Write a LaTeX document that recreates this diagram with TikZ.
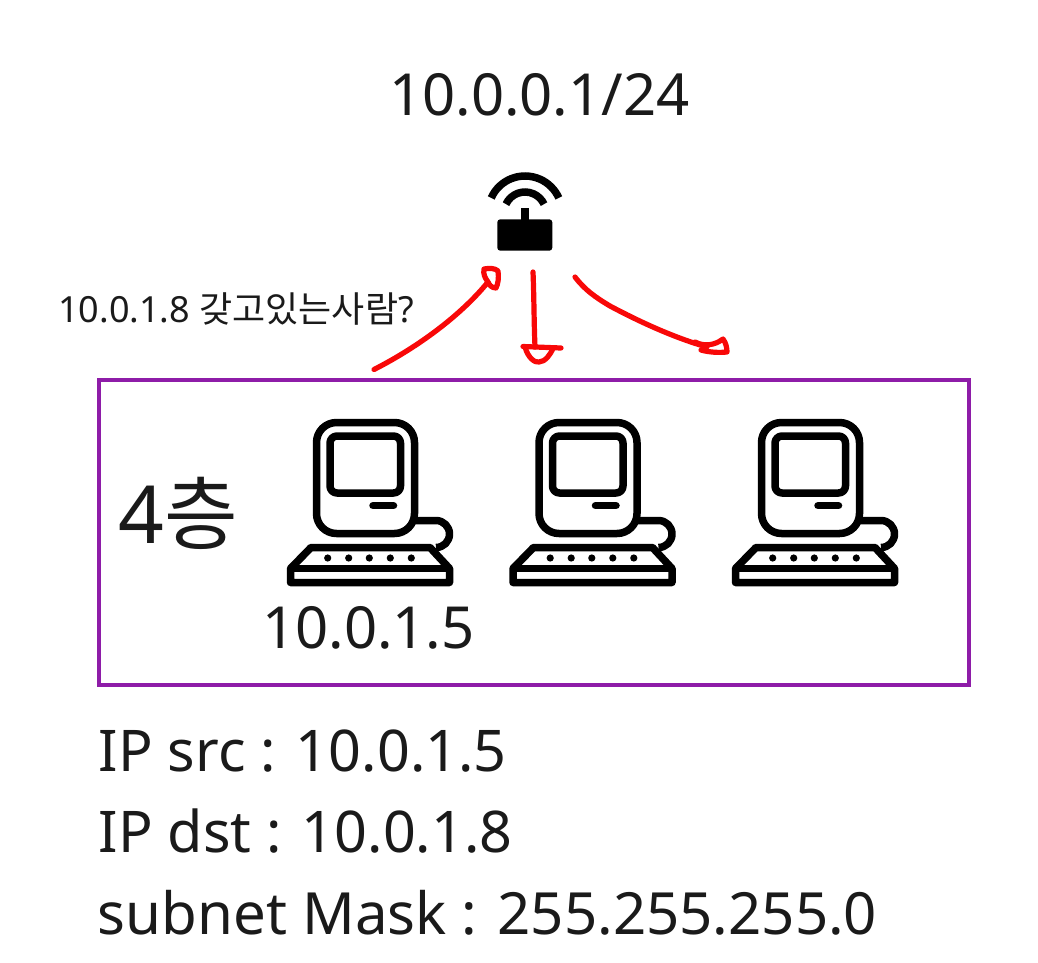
\documentclass[tikz,border=0pt]{standalone}
\usepackage{fontspec}
\setmainfont{Noto Sans}
\newfontfamily\krfont{Noto Sans CJK KR}
\definecolor{boxpurple}{HTML}{8E1CA8}
\definecolor{inkred}{HTML}{F80808}
\definecolor{inktext}{HTML}{1A1A1A}
\tikzset{
  lbl/.style={inner sep=0pt,anchor=base west,text=inktext},
  ink/.style={draw=inkred,line width=5.2pt,line cap=round,line join=round},
  pcline/.style={draw=black,line width=7.5pt,line join=round},
  pc/.pic={
    \draw[pcline,rounded corners=20pt] (316.5,422.5) rectangle (414.5,533.5);
    \draw[pcline,rounded corners=7pt] (330,436) rectangle (400.5,493);
    \draw[pcline,line cap=round] (373,505.7) -- (393.5,505.7);
    \draw[pcline] (414.5,520.5) -- (436,520.5) arc[start angle=90,end angle=-90,radius=13.5pt];
    \draw[pcline] (311,547.5) -- (430,547.5) -- (449.5,568.5) -- (449.5,582.5) -- (290.5,582.5) -- (290.5,568.5) -- cycle;
    \draw[pcline] (290.5,568.5) -- (449.5,568.5);
    \foreach \dx in {327.7,348.7,369.3,390.3,411.3} \fill[black] (\dx,558) circle[radius=3.6pt];
  }
}
\begin{document}
\begin{tikzpicture}[x=1pt,y=-1pt]
\useasboundingbox (0,0) rectangle (1038,962);
\fill[white] (0,0) rectangle (1038,962);
% router
\coordinate (router) at (525,235);
\fill[black,rounded corners=3pt] (497.3,219.3) rectangle (552.3,250.7);
\fill[black] (521,208) rectangle (529,221);
\draw[black,line width=7.5pt] (525,213) ++(156:37pt) arc[start angle=156,end angle=24,radius=37pt];
\draw[black,line width=7.5pt] (525,213) ++(155:21pt) arc[start angle=155,end angle=25,radius=21pt];
% box
\node[draw=boxpurple,line width=4pt,minimum width=870pt,minimum height=305pt,inner sep=0pt] (layer) at (533.7,532.5) {};
% computers
\pic at (0,0) {pc};
\pic at (222.5,0) {pc};
\pic at (445,0) {pc};
% labels
\node[lbl,font=\fontsize{58}{58}\selectfont] (gateway) at (389,115) {10.0.0.1/24};
\node[lbl,font=\fontsize{36}{36}\selectfont] (ask) at (58,322) {10.0.1.8 {\krfont 갖고있는사람}?};
\node[lbl,font=\fontsize{80}{80}\selectfont] (layername) at (118.5,543) {4{\krfont 층}};
\node[lbl,font=\fontsize{58}{58}\selectfont] (hostip) at (262,648) {10.0.1.5};
\node[lbl,font=\fontsize{57.5}{58}\selectfont] (src) at (98.5,771) {IP src : 10.0.1.5};
\node[lbl,font=\fontsize{57.5}{58}\selectfont] (dst) at (98.5,852) {IP dst : 10.0.1.8};
\node[lbl,font=\fontsize{58.2}{58}\selectfont] (mask) at (97.5,934) {subnet Mask : 255.255.255.0};
% red strokes
\coordinate (a1) at (374,369.5);
\coordinate (a2) at (488,282);
\coordinate (b1) at (533,272);
\coordinate (b2) at (535,347);
\coordinate (c1) at (575,277);
\coordinate (c2) at (707,347);
\draw[ink] (a1) .. controls (420,346) and (462,314) .. (a2);
\draw[ink] (a2) .. controls (485,278) and (483,274) .. (484,269) .. controls (489,268) and (495,268) .. (498,271) .. controls (499,278) and (498,284) .. (496,288) .. controls (492,288) and (489,285) .. (a2);
\draw[ink] (b1) .. controls (534,295) and (534,325) .. (b2);
\draw[ink] (523,346.5) -- (561,348);
\draw[ink] (525,347) .. controls (528,358) and (535,363) .. (539,362) .. controls (545,362) and (551,354) .. (553,348);
\draw[ink] (c1) .. controls (585,290) and (595,297) .. (610,306) .. controls (640,322) and (675,338) .. (c2);
\draw[ink] (695,342) .. controls (705,347) and (715,345) .. (723,339) .. controls (726,343) and (727,348) .. (727,352) .. controls (718,353) and (708,352) .. (701,350);
\end{tikzpicture}
\end{document}
